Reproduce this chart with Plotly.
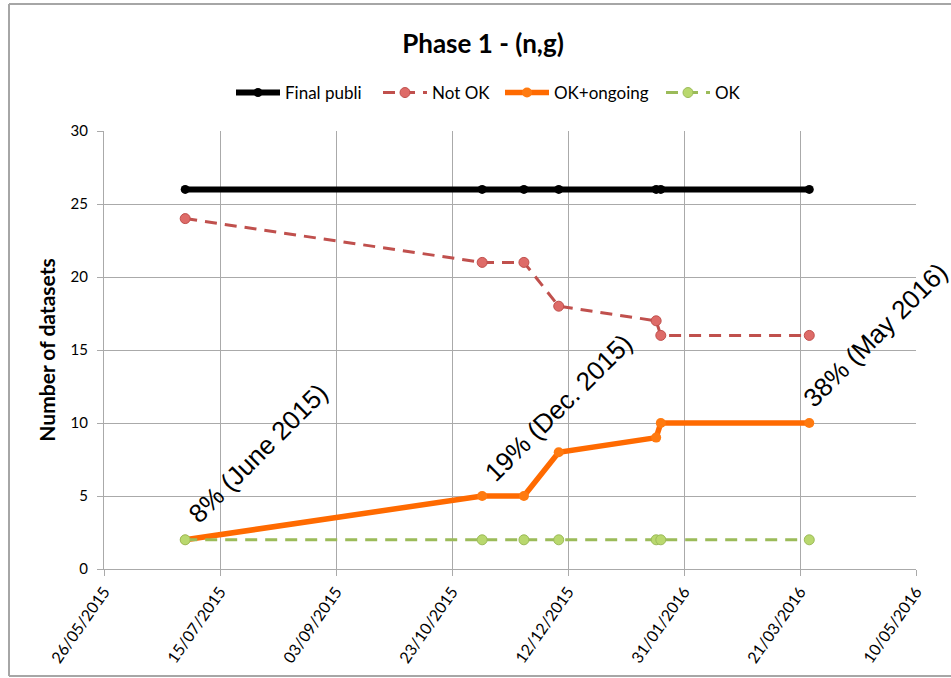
import plotly.graph_objects as go

# ---- data ----
dates = ["2015-06-30", "2015-11-05", "2015-11-23", "2015-12-08",
         "2016-01-19", "2016-01-21", "2016-03-25"]
final_publi = [26, 26, 26, 26, 26, 26, 26]
not_ok = [24, 21, 21, 18, 17, 16, 16]
ok_ongoing = [2, 5, 5, 8, 9, 10, 10]
ok = [2, 2, 2, 2, 2, 2, 2]

series_names = ["Final publi", "Not OK", "OK+ongoing", "OK"]
x_tick_start = "2015-05-26"
x_range = ["2015-05-26", "2016-05-10"]
y_range = [0, 30]

# annotations: (text, index of the point on OK+ongoing it belongs to)
ann_texts = ["8% (June 2015)", "19% (Dec. 2015)", "38% (May 2016)"]
ann_idx = [0, 1, 6]

FONT = "Lato"
GRID = "#aaaaaa"

L, R, T, B = 104, 916, 131, 569
W, H = R - L, B - T
def px(xp): return (xp - L) / W
def py(yp): return (B - yp) / H

legend_ids = ["legend", "legend2", "legend3", "legend4"]
legend_starts = [236, 383, 505, 666]

fig = go.Figure()

fig.add_trace(go.Scatter(
    x=dates, y=final_publi, name=series_names[0], mode="lines+markers",
    line=dict(color="black", width=6),
    marker=dict(color="black", size=9), legend=legend_ids[0]))
fig.add_trace(go.Scatter(
    x=dates, y=not_ok, name=series_names[1], mode="lines+markers",
    line=dict(color="#c0504d", width=3, dash="12px,8px"),
    marker=dict(color="#de6b68", size=10, line=dict(color="#c0504d", width=1)),
    legend=legend_ids[1]))
fig.add_trace(go.Scatter(
    x=dates, y=ok_ongoing, name=series_names[2], mode="lines+markers",
    line=dict(color="#ff6a00", width=5.5),
    marker=dict(color="#ff7a10", size=10), legend=legend_ids[2]))
fig.add_trace(go.Scatter(
    x=dates, y=ok, name=series_names[3], mode="lines+markers",
    line=dict(color="#9bbb59", width=3, dash="12px,8px"),
    marker=dict(color="#b9d86e", size=10, line=dict(color="#9bbb59", width=1)),
    legend=legend_ids[3]))

annotations = []
shifts = [(73, 87), (76, 88), (66, 88)]
for t, i, (dx, dy) in zip(ann_texts, ann_idx, shifts):
    annotations.append(dict(
        x=dates[i], y=ok_ongoing[i], xref="x", yref="y", text=t,
        showarrow=False, textangle=-45, xanchor="center", yanchor="middle",
        xshift=dx, yshift=dy,
        font=dict(family="Liberation Sans", size=26, color="black")))

# frame lines (paper coords)
frame = dict(color="#a6a6a6", width=2)
shapes = [
    dict(type="line", xref="paper", yref="paper", x0=px(9), x1=px(9),
         y0=py(676), y1=py(4), line=frame),
    dict(type="line", xref="paper", yref="paper", x0=px(9), x1=px(951),
         y0=py(4), y1=py(4), line=frame),
    dict(type="line", xref="paper", yref="paper", x0=px(9), x1=px(951),
         y0=py(676), y1=py(676), line=frame),
]

legend_layouts = {}
for lid, xs in zip(legend_ids, legend_starts):
    legend_layouts[lid] = dict(
        orientation="h", x=px(xs - 5), xanchor="left", y=py(93),
        yanchor="middle", font=dict(family=FONT, size=17),
        bgcolor="rgba(0,0,0,0)", itemwidth=44, borderwidth=0)

fig.update_layout(
    width=951, height=678,
    margin=dict(l=L, r=951 - R, t=T, b=678 - B),
    paper_bgcolor="white", plot_bgcolor="white",
    font=dict(family=FONT, color="black"),
    title=dict(text="<b>Phase 1 - (n,g)</b>", x=483 / 951, xanchor="center",
               y=1 - 44 / 678, yanchor="middle",
               font=dict(family=FONT, size=26, color="black")),
    showlegend=True,
    annotations=annotations,
    shapes=shapes,
    **legend_layouts,
)

fig.update_xaxes(
    type="date", range=x_range, tickmode="linear", tick0=x_tick_start,
    dtick=50 * 86400000, tickformat="%d/%m/%Y", tickangle=-55,
    showgrid=True, gridcolor=GRID, gridwidth=1,
    showline=True, linecolor=GRID, linewidth=1,
    ticks="outside", ticklen=6, tickcolor=GRID,
    tickfont=dict(family=FONT, size=16, color="black"),
    zeroline=False, automargin=False)
fig.update_yaxes(
    range=y_range, dtick=5, tick0=0,
    showgrid=True, gridcolor=GRID, gridwidth=1,
    showline=True, linecolor=GRID, linewidth=1,
    ticks="outside", ticklen=6, tickcolor=GRID, ticklabelstandoff=6,
    tickfont=dict(family=FONT, size=15, color="black"),
    title=dict(text="<b>Number of datasets</b>", standoff=9,
               font=dict(family=FONT, size=21, color="black")),
    zeroline=False, automargin=False)

fig.write_html("out.html", config={"displayModeBar": False},
               post_script="document.body.style.margin='0';")
